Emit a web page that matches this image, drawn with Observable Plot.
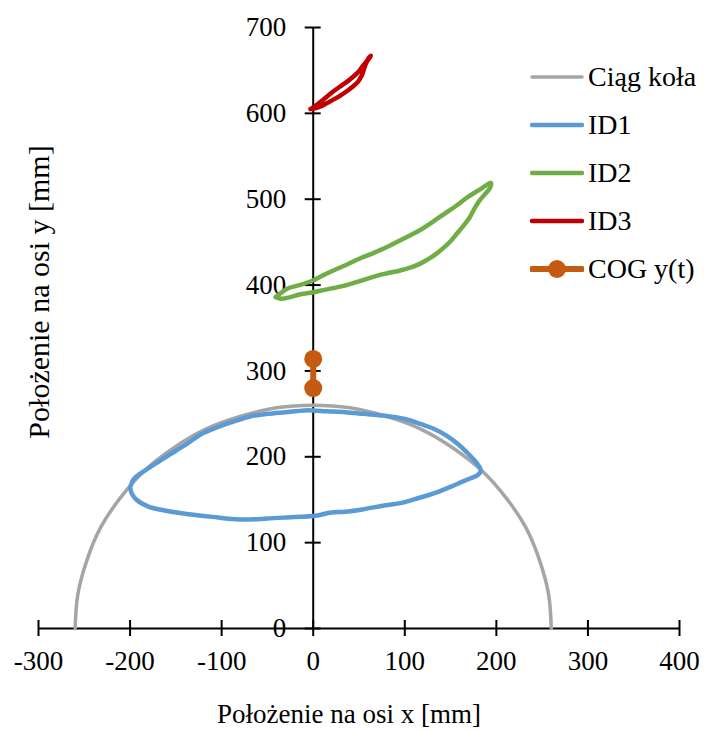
<!DOCTYPE html>
<html>
<head>
<meta charset="utf-8">
<script src="https://cdn.jsdelivr.net/npm/d3@7"></script>
<script src="https://cdn.jsdelivr.net/npm/@observablehq/plot@0.6"></script>
<style>
  html, body { margin: 0; padding: 0; background: #fff; }
  #chart { position: relative; width: 704px; height: 731px; font-family: 'Liberation Serif', 'Times New Roman', 'DejaVu Serif', serif; }
  #chart svg text { font-family: 'Liberation Serif', 'Times New Roman', 'DejaVu Serif', serif; }
  #legend { position: absolute; left: 530px; top: 53px; }
  .item { display: flex; align-items: center; height: 48px; font-size: 28px; color: #000; font-family: 'Liberation Serif', 'Times New Roman', serif; }
  .item svg { margin-right: 4px; }
</style>
</head>
<body>
<div id="chart"></div>
<script>
// Wheel path (circle of radius 260 mm), sampled points
const wheelPath = [
  [-260, 0], [-257, 40], [-247, 80], [-232, 118], [-210, 153], [-184, 184],
  [-153, 210], [-118, 232], [-80, 247], [-40, 257], [0, 260], [40, 257],
  [80, 247], [118, 232], [153, 210], [184, 184], [210, 153], [232, 118],
  [247, 80], [257, 40], [260, 0]
];

// Marker ID1 trajectory [x, y] in mm
const id1 = [
  [-200, 164], [-196, 174], [-188, 181], [-178, 188], [-165, 197], [-150, 207],
  [-138, 215], [-123, 226], [-108, 233], [-90, 240], [-69, 247], [-50, 250],
  [-30, 252], [-10, 254], [0, 254], [15, 253], [35, 252], [55, 250], [76, 248],
  [100, 244], [118, 238], [131, 233], [145, 225], [158, 215], [168, 205],
  [176, 196], [181, 189], [183, 184], [180, 179], [172, 175], [163, 171],
  [150, 165], [131, 157], [115, 152], [95, 146], [76, 143], [55, 139],
  [35, 136], [20, 135], [0, 131], [-20, 130], [-50, 128], [-80, 127],
  [-110, 130], [-142, 134], [-165, 138], [-180, 142], [-193, 150],
  [-198, 157], [-200, 164]
];

// Marker ID2 trajectory [x, y] in mm
const id2 = [
  [-41, 386], [-35, 391], [-28, 396], [-15, 400], [-1, 405], [10, 411],
  [22, 417], [37, 424], [51, 431], [65, 437], [80, 444], [93, 451],
  [106, 458], [115, 463], [124, 469], [135, 477], [146, 485], [157, 493],
  [168, 502], [180, 510], [190, 517], [194, 519], [193, 513], [187, 505],
  [182, 499], [176, 489], [171, 479], [164, 469], [157, 460], [150, 451],
  [142, 443], [130, 433], [117, 425], [105, 420], [95, 417], [82, 414],
  [70, 411], [52, 405], [33, 399], [15, 395], [-3, 391], [-15, 389],
  [-25, 386], [-35, 384], [-41, 386]
];

// Marker ID3 trajectory [x, y] in mm
const id3 = [
  [-3, 605], [4, 610], [11, 616], [20, 624], [29, 631], [37, 637], [44, 643],
  [50, 649], [54, 655], [58, 660], [61, 665], [63, 667], [58, 659], [55, 650],
  [53, 644], [49, 637], [43, 631], [37, 626], [30, 621], [22, 616], [15, 612],
  [8, 608], [2, 606], [-3, 605]
];

// Centre of gravity, vertical position over time
const cogY = [[0, 314], [0, 280]];

const xTicks = [-300, -200, -100, 0, 100, 200, 300, 400];
const yTicks = [0, 100, 200, 300, 400, 500, 600, 700];

const xTitle = "Położenie na osi x [mm]";
const yTitle = "Położenie na osi y [mm]";

const series = [
  {name: "Ciąg koła", color: "#A5A5A5", width: 3.5},
  {name: "ID1", color: "#5B9BD5", width: 4.5},
  {name: "ID2", color: "#70AD47", width: 4.5},
  {name: "ID3", color: "#C00000", width: 4.5},
  {name: "COG y(t)", color: "#C55A11", width: 6, dot: true}
];

const font = "'Liberation Serif', 'Times New Roman', serif";
const px = d => d[0], py = d => d[1];

const chart = Plot.plot({
  width: 704,
  height: 731,
  marginTop: 27,
  marginBottom: 103,
  marginLeft: 38,
  marginRight: 25,
  x: {domain: [-300, 400], axis: null},
  y: {domain: [0, 700], axis: null},
  style: {fontFamily: font, background: "#fff", color: "#000"},
  marks: [
    // axes crossing at the origin
    Plot.ruleY([0], {x1: -300, x2: 400, stroke: "#000", strokeWidth: 2}),
    Plot.ruleX([0], {y1: 0, y2: 700, stroke: "#000", strokeWidth: 2}),
    Plot.ruleX(xTicks, {x: d => d, y1: 0, y2: 0, insetTop: -8, insetBottom: -8, stroke: "#000", strokeWidth: 2}),
    Plot.ruleY(yTicks, {y: d => d, x1: 0, x2: 0, insetLeft: -8, insetRight: -8, stroke: "#000", strokeWidth: 2}),
    Plot.text(xTicks, {x: d => d, y: 0, text: d => String(d), dy: 33, fontSize: 27, fontFamily: font, fill: "#000"}),
    Plot.text(yTicks, {x: 0, y: d => d, text: d => String(d), textAnchor: "end", dx: -27, fontSize: 27, fontFamily: font, fill: "#000"}),
    Plot.text([xTitle], {frameAnchor: "bottom", text: d => d, textAnchor: "middle", lineAnchor: "middle", dy: 86, dx: -10, fontSize: 27, fontFamily: font, fill: "#000"}),
    Plot.text([yTitle], {frameAnchor: "left", text: d => d, textAnchor: "middle", lineAnchor: "middle", rotate: -90, dx: 1, dy: -36, fontSize: 30, fontFamily: font, fill: "#000"}),
    // trajectories
    Plot.line(wheelPath, {x: px, y: py, stroke: series[0].color, strokeWidth: series[0].width, curve: "catmull-rom"}),
    Plot.line(id1, {x: px, y: py, stroke: series[1].color, strokeWidth: series[1].width, strokeLinejoin: "round", curve: "catmull-rom"}),
    Plot.line(id2, {x: px, y: py, stroke: series[2].color, strokeWidth: series[2].width, strokeLinejoin: "round", curve: "catmull-rom"}),
    Plot.line(id3, {x: px, y: py, stroke: series[3].color, strokeWidth: series[3].width, strokeLinejoin: "round", curve: "catmull-rom"}),
    Plot.line(cogY, {x: px, y: py, stroke: series[4].color, strokeWidth: series[4].width}),
    Plot.dot(cogY, {x: px, y: py, r: 9, fill: series[4].color, stroke: "none"})
  ]
});

const root = document.getElementById("chart");
root.appendChild(chart);

// legend
const legend = document.createElement("div");
legend.id = "legend";
for (const s of series) {
  const item = document.createElement("div");
  item.className = "item";
  const sw = `<svg width="54" height="20" viewBox="0 0 54 20">
    <line x1="2" y1="10" x2="52" y2="10" stroke="${s.color}" stroke-width="${s.width}" stroke-linecap="round"/>
    ${s.dot ? `<circle cx="27" cy="10" r="9" fill="${s.color}"/>` : ""}
  </svg>`;
  item.innerHTML = sw + `<span>${s.name}</span>`;
  legend.appendChild(item);
}
root.appendChild(legend);
</script>
</body>
</html>
